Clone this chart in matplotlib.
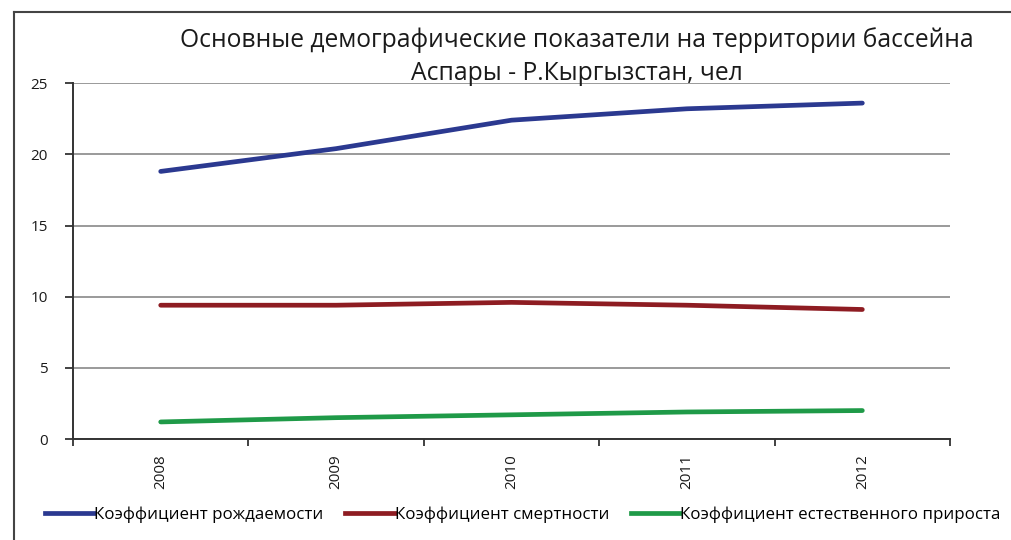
import matplotlib
matplotlib.use('Agg')
import matplotlib.pyplot as plt
from matplotlib.lines import Line2D
import numpy as np

years = ['2008', '2009', '2010', '2011', '2012']
birth_rate = [18.8, 20.4, 22.4, 23.2, 23.6]
death_rate = [9.4, 9.4, 9.6, 9.4, 9.1]
natural_growth = [1.2, 1.5, 1.7, 1.9, 2.0]
series_names = ['Коэффициент рождаемости', 'Коэффициент смертности',
                'Коэффициент естественного прироста']
title_text = 'Основные демографические показатели на территории бассейна\nАспары - Р.Кыргызстан, чел'

colors = ['#2b3990', '#8e1c22', '#1f9a48']

plt.rcParams['font.family'] = ['Open Sans', 'DejaVu Sans']

fig = plt.figure(figsize=(10.11, 5.40), dpi=100)
ax = fig.add_axes([0.0722, 0.187, 0.8675, 0.659])

x = np.arange(len(years))
for vals, c, name in zip([birth_rate, death_rate, natural_growth], colors, series_names):
    ax.plot(x, vals, color=c, lw=3.4, solid_capstyle='round', label=name)

ax.set_xlim(-0.5, len(years) - 0.5)
ax.set_ylim(0, 25)
ax.set_yticks([0, 5, 10, 15, 20, 25])
ax.yaxis.grid(True, color='#9a9a9a', lw=1.4)
ax.set_axisbelow(True)

ax.set_xticks(x)
ax.set_xticklabels(years, rotation=90, fontsize=11, color='#1a1a1a')
ax.set_xticks(np.arange(-0.5, len(years)), minor=True)
ax.tick_params(axis='x', which='major', length=0, pad=11)
ax.tick_params(axis='x', which='minor', length=5, color='#333333', width=1.3, direction='out')
ax.tick_params(axis='y', length=6, color='#333333', width=1.3, labelsize=11,
               labelcolor='#1a1a1a', pad=12)

for s in ['top', 'right']:
    ax.spines[s].set_visible(False)
for s in ['left', 'bottom']:
    ax.spines[s].set_color('#333333')
    ax.spines[s].set_linewidth(1.4)

fig.text(0.571, 0.895, title_text, ha='center', va='center', fontsize=17.7,
         linespacing=1.4, color='#1a1a1a')

handles = [Line2D([], [], color=c, lw=3.4) for c in colors]
fig.legend(handles, series_names, loc='center', bbox_to_anchor=(0.517, 0.047), ncol=3,
           frameon=False, handlelength=2.9, handletextpad=0.0, columnspacing=1.3,
           prop={'size': 12.2})

# frame of the scanned picture
fig.add_artist(Line2D([0.014, 0.014], [0.0, 0.978], color='#444444', lw=1.5))
fig.add_artist(Line2D([0.014, 1.0], [0.978, 0.978], color='#444444', lw=1.5))

fig.savefig('out.png', dpi=100)
